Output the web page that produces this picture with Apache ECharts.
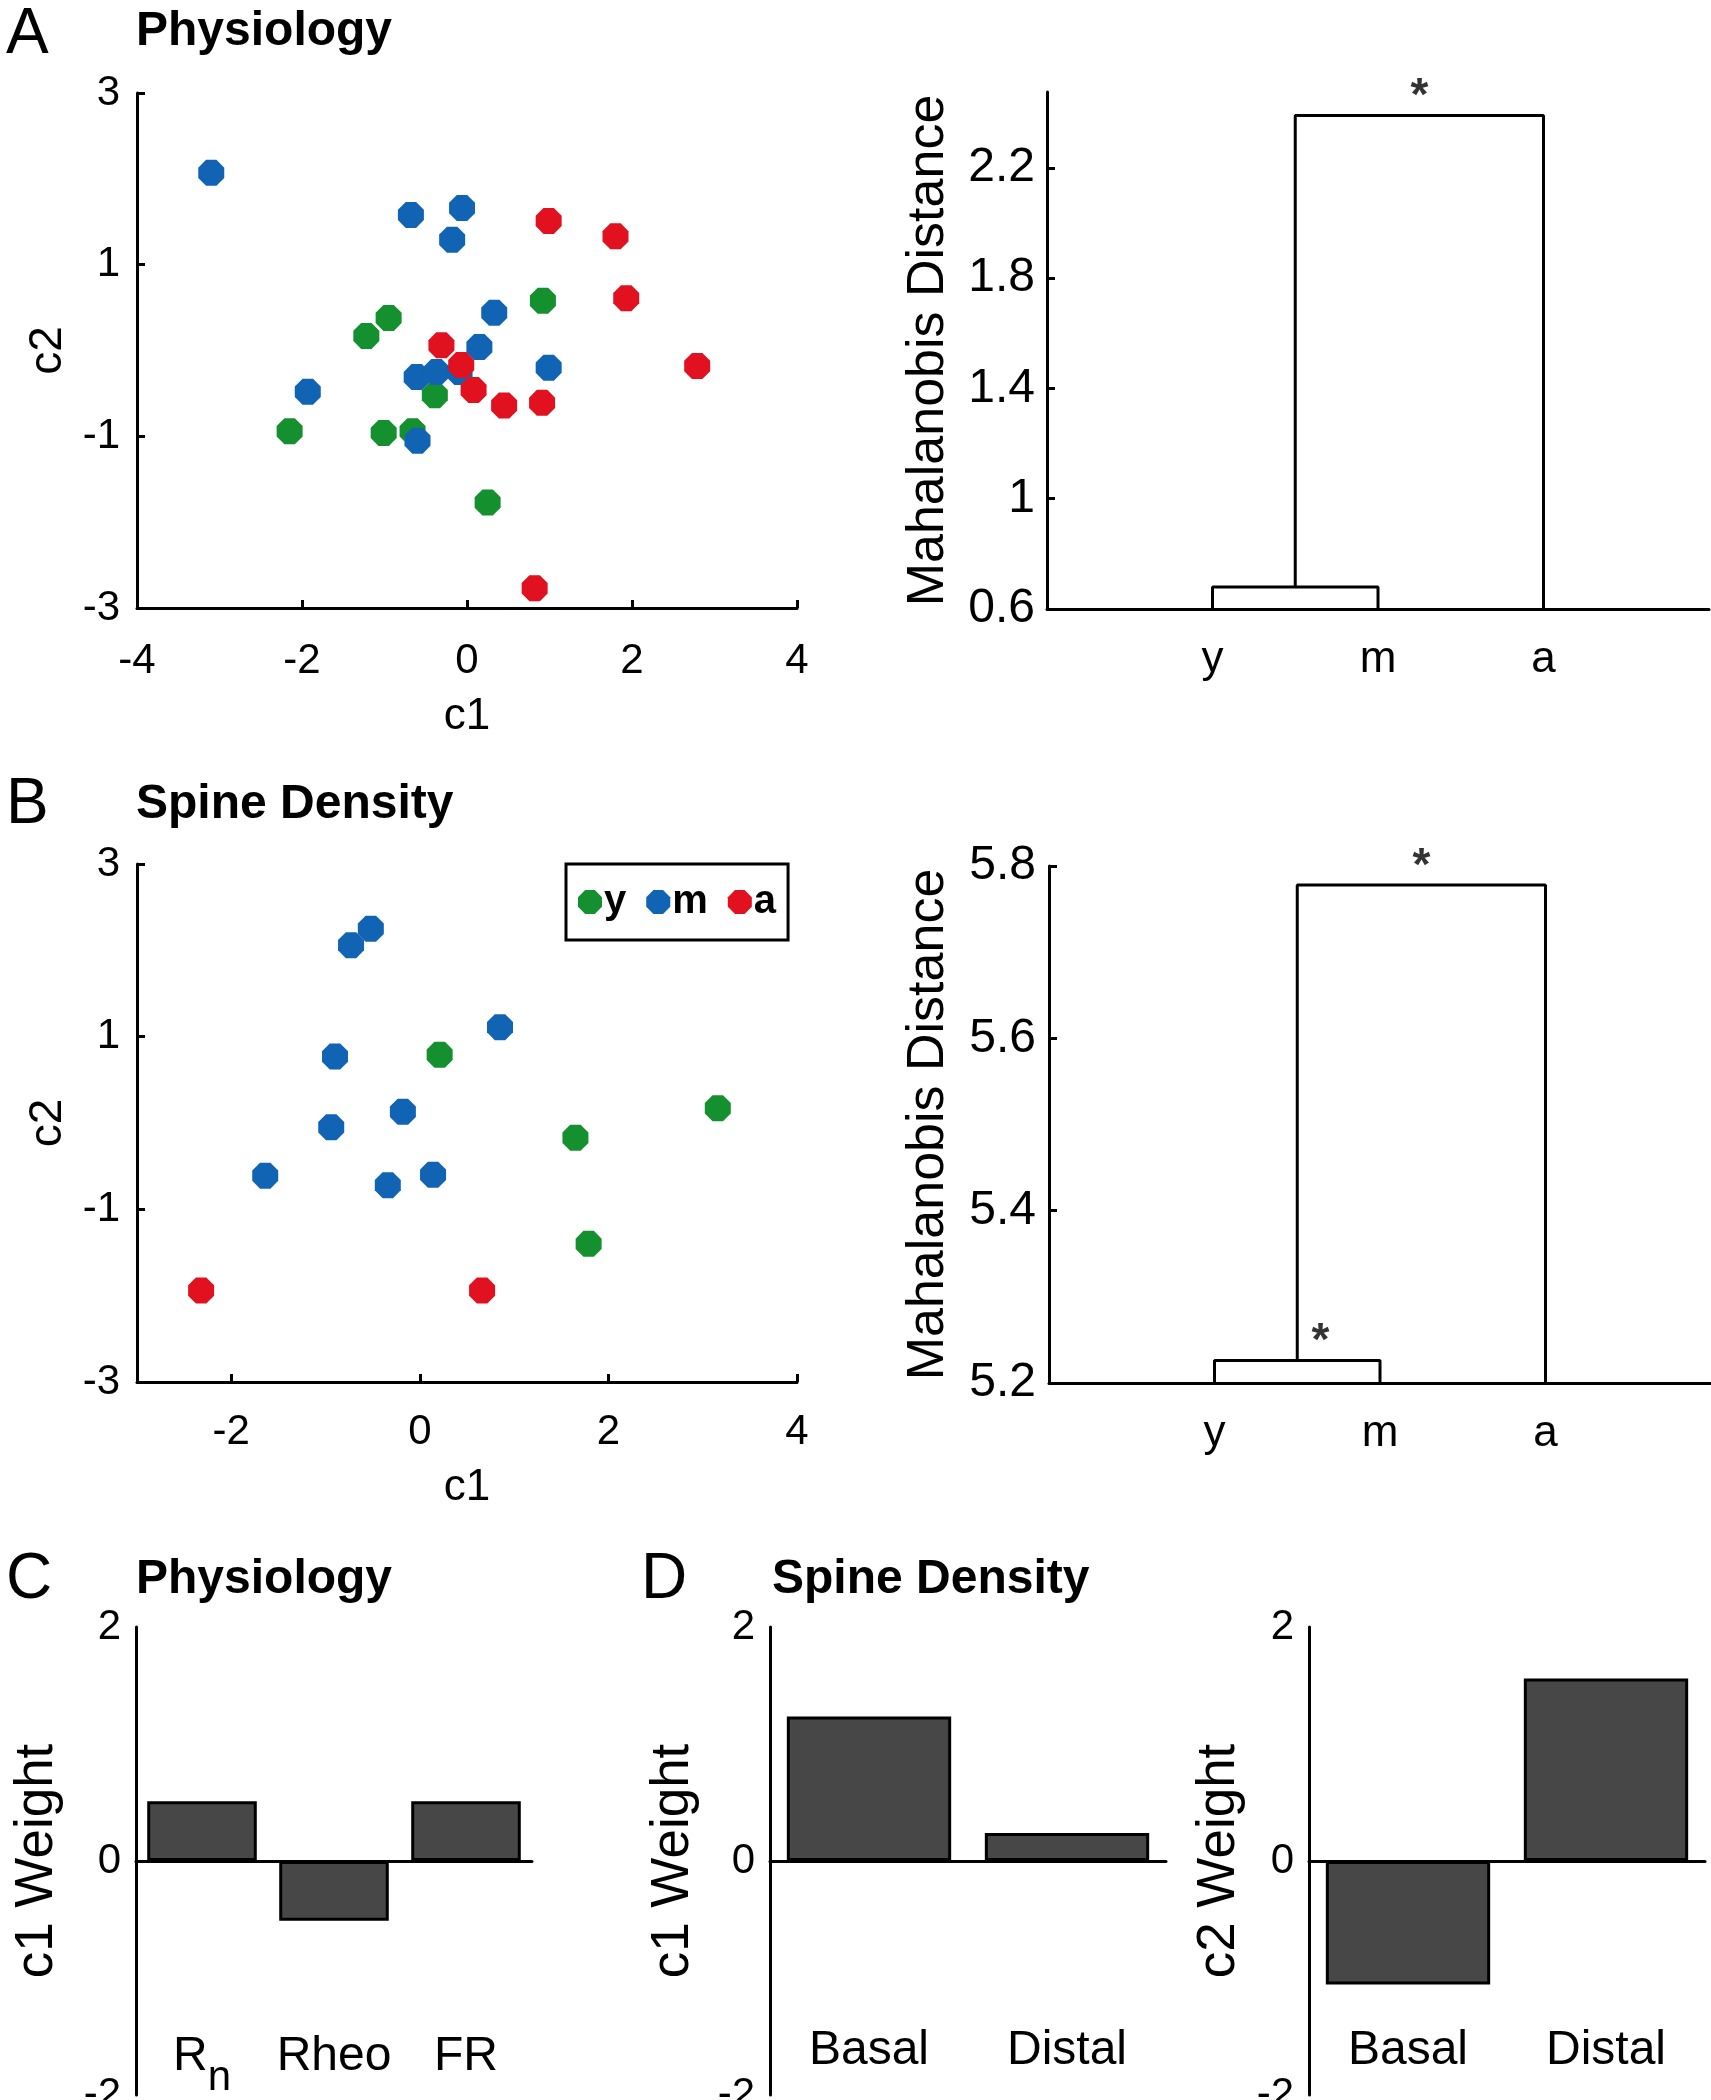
<!DOCTYPE html>
<html>
<head>
<meta charset="utf-8">
<script src="https://cdn.jsdelivr.net/npm/echarts@6/dist/echarts.min.js"></script>
<style>
html,body{margin:0;padding:0;background:#fff;}
#chart{width:1711px;height:2100px;}
</style>
</head>
<body>
<div id="chart"></div>
<script>
// ---------- data ----------
const groups = ['y', 'm', 'a'];
const groupColors = ['#14902e', '#1164b4', '#e2111f'];

// Panel A scatter (c1, c2)
const physY = [[-0.95,0.38],[-1.22,0.17],[0.92,0.58],[-2.15,-0.94],[-1.01,-0.96],[-0.66,-0.94],[-0.39,-0.52],[0.25,-1.77]];
const physM = [[-3.10,2.07],[-0.68,1.58],[-0.06,1.66],[-0.18,1.29],[0.33,0.44],[0.15,0.04],[0.99,-0.20],[-1.93,-0.48],[-0.61,-0.31],[-0.37,-0.25],[-0.09,-0.25],[-0.60,-1.05]];
const physA = [[0.99,1.51],[1.80,1.33],[1.93,0.61],[2.79,-0.18],[-0.31,0.06],[-0.07,-0.17],[0.08,-0.46],[0.45,-0.64],[0.91,-0.61],[0.82,-2.77]];

// Panel B scatter (c1, c2)
const spineY = [[0.21,0.79],[3.16,0.17],[1.65,-0.17],[1.79,-1.40]];
const spineM = [[-0.52,2.25],[-0.73,2.06],[0.85,1.11],[-0.90,0.77],[-0.18,0.13],[-0.94,-0.05],[-1.64,-0.61],[-0.34,-0.72],[0.14,-0.60]];
const spineA = [[-2.32,-1.94],[0.66,-1.94]];

// Dendrogram merge heights (Mahalanobis distance): [y-m link, (ym)-a link]
const physLinks = [0.68, 2.39];
const spineLinks = [5.226, 5.778];
// significance asterisks: [x position, link height]
const physStars = [[2.25, 2.39]];
const spineStars = [[2.25, 5.778], [1.64, 5.226]];

// Axis ticks
const scatterXTicksA = [-4, -2, 0, 2, 4];
const scatterXTicksB = [-2, 0, 2, 4];
const scatterYTicks = [-3, -1, 1, 3];
const physDistTicks = [0.6, 1, 1.4, 1.8, 2.2];
const spineDistTicks = [5.2, 5.4, 5.6, 5.8];
const weightTicks = [-2, 0, 2];

// Panel C / D weights
const physFeatures = ['Rn', 'Rheo', 'FR'];
const physC1 = [0.51, -0.51, 0.51];
const spineFeatures = ['Basal', 'Distal'];
const spineC1 = [1.235, 0.24];
const spineC2 = [-1.055, 1.56];

// ---------- helpers ----------
const FONT = 'Liberation Sans, Arial, Helvetica, sans-serif';
const BLACK = '#000';
const AXW = 3;
const octagon = 'path://M30,0 L70,0 L100,30 L100,70 L70,100 L30,100 L0,70 L0,30 Z';

function axisLine() { return { show: true, onZero: false, lineStyle: { color: BLACK, width: AXW } }; }

function dendroLines(links) {
  // leaves at 1,2,3; leaf stems start at 0 and are clipped by the axis
  return [
    [[1, 0], [1, links[0]], [2, links[0]], [2, 0]],
    [[1.5, links[0]], [1.5, links[1]], [3, links[1]], [3, 0]]
  ];
}

const grids = [
  { left: 137, top: 93, width: 660, height: 515 },     // 0 A scatter
  { left: 1047, top: 92, width: 662, height: 517 },    // 1 A dendro
  { left: 137, top: 864, width: 660, height: 518 },    // 2 B scatter
  { left: 1049, top: 866, width: 662, height: 517 },   // 3 B dendro
  { left: 136, top: 1627, width: 396, height: 468 },   // 4 C
  { left: 770, top: 1627, width: 396, height: 468 },   // 5 D c1
  { left: 1309, top: 1627, width: 396, height: 468 }   // 6 D c2
].map(g => Object.assign({ containLabel: false, outerBoundsMode: 'none' }, g));

const tickFont = 42;
const labelStyle = (size) => ({ color: BLACK, fontFamily: FONT, fontSize: size });

const rnRich = {
  r: { fontSize: 48, fontFamily: FONT, color: BLACK, verticalAlign: 'top', lineHeight: 48 },
  s: { fontSize: 42, fontFamily: FONT, color: BLACK, verticalAlign: 'top', lineHeight: 42, padding: [24, 0, 0, 0] }
};

function catAxes(grid, cats, withRich, margin) {
  return [
    // zero line axis (bars bound to this one)
    { gridIndex: grid, type: 'category', data: cats,
      axisLine: { show: true, onZero: true, lineStyle: { color: BLACK, width: AXW } },
      axisTick: { show: false }, axisLabel: { show: false } },
    // label-only axis placed low inside the plot
    { gridIndex: grid, type: 'category', data: cats, position: 'bottom',
      axisLine: { show: false, onZero: false }, axisTick: { show: false },
      axisLabel: Object.assign({ margin: margin, interval: 0,
        formatter: v => (withRich && v === 'Rn') ? '{r|R}{s|n}' : v,
        rich: withRich ? rnRich : undefined }, labelStyle(48)) }
  ];
}

const xAxes = [
  // 0 A scatter
  { gridIndex: 0, type: 'value', min: -4, max: 4, axisLine: axisLine(),
    axisTick: { inside: true, length: 8, customValues: scatterXTicksA, lineStyle: { color: BLACK, width: AXW } },
    axisLabel: Object.assign({ customValues: scatterXTicksA, margin: 32 }, labelStyle(tickFont)),
    splitLine: { show: false }, name: 'c1', nameLocation: 'middle', nameGap: 87,
    nameTextStyle: labelStyle(44) },
  // 1 A dendro
  { gridIndex: 1, type: 'value', min: 0, max: 4, axisLine: axisLine(), axisTick: { show: false },
    axisLabel: Object.assign({ customValues: [1, 2, 3], margin: 29, formatter: v => groups[Math.round(v) - 1] }, labelStyle(44)),
    splitLine: { show: false } },
  // 2 B scatter
  { gridIndex: 2, type: 'value', min: -3, max: 4, axisLine: axisLine(),
    axisTick: { inside: true, length: 8, customValues: scatterXTicksB, lineStyle: { color: BLACK, width: AXW } },
    axisLabel: Object.assign({ customValues: scatterXTicksB, margin: 29 }, labelStyle(tickFont)),
    splitLine: { show: false }, name: 'c1', nameLocation: 'middle', nameGap: 84,
    nameTextStyle: labelStyle(44) },
  // 3 B dendro
  { gridIndex: 3, type: 'value', min: 0, max: 4, axisLine: axisLine(), axisTick: { show: false },
    axisLabel: Object.assign({ customValues: [1, 2, 3], margin: 29, formatter: v => groups[Math.round(v) - 1] }, labelStyle(44)),
    splitLine: { show: false } }
].concat(catAxes(4, physFeatures, true, -62))      // 4,5
 .concat(catAxes(5, spineFeatures, false, -68))    // 6,7
 .concat(catAxes(6, spineFeatures, false, -68));   // 8,9

function weightY(grid, name, gap) {
  return { gridIndex: grid, type: 'value', min: -2, max: 2, axisLine: axisLine(),
    axisTick: { inside: true, length: 8, customValues: weightTicks, lineStyle: { color: BLACK, width: AXW } },
    axisLabel: Object.assign({ customValues: weightTicks, margin: 15 }, labelStyle(tickFont)),
    splitLine: { show: false }, name: name, nameLocation: 'middle', nameGap: gap,
    nameTextStyle: labelStyle(53) };
}

const yAxes = [
  { gridIndex: 0, type: 'value', min: -3, max: 3, axisLine: axisLine(),
    axisTick: { inside: true, length: 8, customValues: scatterYTicks, lineStyle: { color: BLACK, width: AXW } },
    axisLabel: Object.assign({ customValues: scatterYTicks, margin: 17 }, labelStyle(tickFont)),
    splitLine: { show: false }, name: 'c2', nameLocation: 'middle', nameGap: 66, nameTextStyle: labelStyle(46) },
  { gridIndex: 1, type: 'value', min: 0.6, max: 2.475, axisLine: axisLine(),
    axisTick: { inside: true, length: 8, customValues: physDistTicks, lineStyle: { color: BLACK, width: AXW } },
    axisLabel: Object.assign({ customValues: physDistTicks, margin: 12 }, labelStyle(48)),
    splitLine: { show: false }, name: 'Mahalanobis Distance', nameLocation: 'middle', nameGap: 92,
    nameTextStyle: labelStyle(52) },
  { gridIndex: 2, type: 'value', min: -3, max: 3, axisLine: axisLine(),
    axisTick: { inside: true, length: 8, customValues: scatterYTicks, lineStyle: { color: BLACK, width: AXW } },
    axisLabel: Object.assign({ customValues: scatterYTicks, margin: 17 }, labelStyle(tickFont)),
    splitLine: { show: false }, name: 'c2', nameLocation: 'middle', nameGap: 66, nameTextStyle: labelStyle(46) },
  { gridIndex: 3, type: 'value', min: 5.2, max: 5.8, axisLine: axisLine(),
    axisTick: { inside: true, length: 8, customValues: spineDistTicks, lineStyle: { color: BLACK, width: AXW } },
    axisLabel: Object.assign({ customValues: spineDistTicks, margin: 13 }, labelStyle(48)),
    splitLine: { show: false }, name: 'Mahalanobis Distance', nameLocation: 'middle', nameGap: 94,
    nameTextStyle: labelStyle(52) },
  weightY(4, 'c1 Weight', 72),
  weightY(5, 'c1 Weight', 70),
  weightY(6, 'c2 Weight', 63)
];

const series = [];
function scatterSeries(xi, sets) {
  sets.forEach((d, i) => {
    series.push({ type: 'scatter', name: groups[i], xAxisIndex: xi, yAxisIndex: xi,
      data: d, symbol: octagon, symbolSize: 26,
      itemStyle: { color: groupColors[i], opacity: 1 }, emphasis: { disabled: true } });
  });
}
scatterSeries(0, [physY, physM, physA]);
scatterSeries(2, [spineY, spineM, spineA]);

function dendroSeries(xi, links, stars) {
  dendroLines(links).forEach(seg => {
    series.push({ type: 'line', xAxisIndex: xi, yAxisIndex: xi, data: seg, symbol: 'none',
      clip: true, lineStyle: { color: BLACK, width: AXW }, silent: true });
  });
  series.push({ type: 'scatter', xAxisIndex: xi, yAxisIndex: xi, data: stars, symbolSize: 0,
    silent: true, clip: false,
    label: { show: true, position: 'inside', formatter: '*', offset: [0, -18],
      fontSize: 46, fontWeight: 'bold', fontFamily: FONT, color: BLACK } });
}
dendroSeries(1, physLinks, physStars);
dendroSeries(3, spineLinks, spineStars);

function barSeries(xi, yi, vals) {
  series.push({ type: 'bar', xAxisIndex: xi, yAxisIndex: yi, data: vals, barCategoryGap: '17%',
    itemStyle: { color: '#474747', borderColor: BLACK, borderWidth: 3 }, silent: true });
}
barSeries(4, 4, physC1);
barSeries(6, 5, spineC1);
barSeries(8, 6, spineC2);

const letterStyle = { fontFamily: FONT, fontSize: 64, fontWeight: 'normal', color: BLACK };
const headStyle = { fontFamily: FONT, fontSize: 48, fontWeight: 'bold', color: BLACK };
const titles = [
  { text: 'A', left: 6, top: 3, textStyle: letterStyle, padding: 0 },
  { text: 'Physiology', left: 136, top: 8, textStyle: headStyle, padding: 0 },
  { text: 'B', left: 6, top: 773, textStyle: letterStyle, padding: 0 },
  { text: 'Spine Density', left: 136, top: 781, textStyle: headStyle, padding: 0 },
  { text: 'C', left: 6, top: 1548, textStyle: letterStyle, padding: 0 },
  { text: 'Physiology', left: 136, top: 1556, textStyle: headStyle, padding: 0 },
  { text: 'D', left: 641, top: 1548, textStyle: letterStyle, padding: 0 },
  { text: 'Spine Density', left: 772, top: 1556, textStyle: headStyle, padding: 0 }
];

const chart = echarts.init(document.getElementById('chart'), null, { renderer: 'canvas' });
chart.setOption({
  animation: false,
  backgroundColor: '#fff',
  textStyle: { fontFamily: FONT },
  title: titles,
  legend: {
    data: groups, left: 566, top: 864, orient: 'horizontal',
    icon: octagon, itemWidth: 24, itemHeight: 24, itemGap: 20,
    borderColor: BLACK, borderWidth: 3, padding: [18, 12, 18, 12],
    textStyle: { fontSize: 40, fontWeight: 'bold', color: BLACK, fontFamily: FONT, padding: [0, 0, 0, -3] },
    selectedMode: false
  },
  grid: grids,
  xAxis: xAxes,
  yAxis: yAxes,
  series: series
});
</script>
</body>
</html>
